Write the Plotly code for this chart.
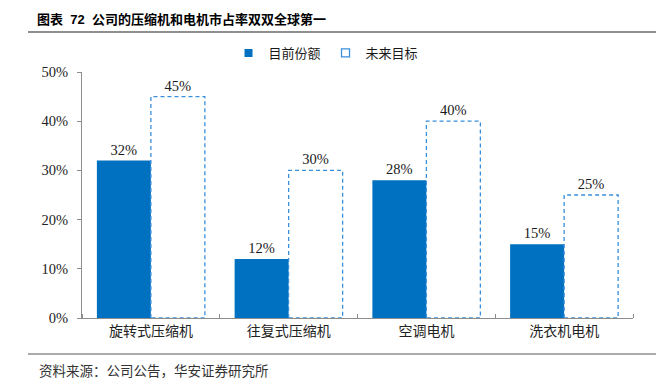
import plotly.graph_objects as go

categories = ["旋转式压缩机", "往复式压缩机", "空调电机", "洗衣机电机"]
current_share = [32, 12, 28, 15]
target_share = [45, 30, 40, 25]
y_ticks = [0, 10, 20, 30, 40, 50]

SOLID = "#0070C0"
DASH = "#3A8FDA"
BARGAP = 0.216
W = (1 - BARGAP) / 2

xs = list(range(len(categories)))

fig = go.Figure()
fig.add_trace(go.Bar(
    x=xs, y=current_share, name="目前份额", marker=dict(color=SOLID, line=dict(width=0)),
    text=[f"{v}%" for v in current_share], textposition="outside", cliponaxis=False,
    textfont=dict(family="Liberation Serif", size=14.5, color="#1a1a1a"), showlegend=False,
))
fig.add_trace(go.Bar(
    x=xs, y=target_share, name="未来目标", marker=dict(color="rgba(255,255,255,0)", line=dict(width=0)),
    text=[f"{v}%" for v in target_share], textposition="outside", cliponaxis=False,
    textfont=dict(family="Liberation Serif", size=14.5, color="#1a1a1a"), showlegend=False,
))

# dashed outlines of target bars
ox, oy = [], []
for i, v in zip(xs, target_share):
    ox += [i, i, i + W, i + W, i, None]
    oy += [0, v, v, 0, 0, None]
fig.add_trace(go.Scatter(x=ox, y=oy, mode="lines", line=dict(color=DASH, width=1.3, dash="4px,3px"),
                         showlegend=False, hoverinfo="skip", cliponaxis=False))

# legend entries
fig.add_trace(go.Scatter(x=[None], y=[None], mode="markers", name="目前份额",
                         marker=dict(symbol="square", size=8, color=SOLID)))
fig.add_trace(go.Scatter(x=[None], y=[None], mode="markers", name="未来目标",
                         marker=dict(symbol="square-open", size=8, color=DASH, line=dict(width=1.3))))

fig.update_layout(
    width=664, height=385,
    margin=dict(l=82, r=31, t=72, b=67, autoexpand=False),
    paper_bgcolor="white", plot_bgcolor="white",
    barmode="group", bargap=BARGAP, bargroupgap=0,
    font=dict(family="Noto Sans CJK SC", color="#1a1a1a"),
    title=dict(text="图表  72  公司的压缩机和电机市占率双双全球第一", xref="container", yref="container",
               x=37 / 664, xanchor="left", y=1 - 19 / 385, yanchor="middle",
               font=dict(family="Liberation Sans, Noto Sans CJK SC", size=13, weight="bold", color="#000")),
    legend=dict(orientation="h", xref="paper", yref="paper", x=(326 - 82) / 551, xanchor="center",
                y=(318 - 53) / 246, yanchor="middle", font=dict(size=13, color="#1a1a1a"),
                itemwidth=30, tracegroupgap=0, bgcolor="rgba(0,0,0,0)"),
    xaxis=dict(range=[-0.5, 3.5], tickmode="array", tickvals=xs, ticktext=categories,
               ticks="", showline=True, linecolor="#8c8c8c", linewidth=1, showgrid=False, zeroline=False,
               automargin=False,
               tickfont=dict(family="Noto Sans CJK SC", size=14, color="#222"),
               minor=dict(tickmode="array", tickvals=[-0.5, 0.5, 1.5, 2.5, 3.5], ticks="inside",
                          ticklen=4, tickcolor="#8c8c8c", showgrid=False)),
    yaxis=dict(range=[0, 50], tickmode="array", tickvals=y_ticks, ticktext=[f"{v}%" for v in y_ticks],
               ticks="outside", ticklen=4, tickcolor="#8c8c8c", showline=True, linecolor="#8c8c8c",
               linewidth=1, showgrid=False, zeroline=False, ticklabelstandoff=6, automargin=False,
               tickfont=dict(family="Liberation Serif", size=14.5, color="#222")),
    shapes=[
        dict(type="line", xref="paper", yref="paper", x0=(28 - 82) / 551, x1=(656 - 82) / 551,
             y0=(318 - 32) / 246, y1=(318 - 32) / 246, line=dict(color="#8f8f8f", width=2)),
        dict(type="line", xref="paper", yref="paper", x0=(28 - 82) / 551, x1=(656 - 82) / 551,
             y0=(318 - 354) / 246, y1=(318 - 354) / 246, line=dict(color="#8f8f8f", width=1.5)),
    ],
    annotations=[
        dict(text="资料来源：公司公告，华安证券研究所", xref="paper", yref="paper",
             x=(37 - 82) / 551, xanchor="left", y=(318 - 370) / 246, yanchor="middle",
             showarrow=False, font=dict(family="Noto Sans CJK SC", size=13.5, color="#333")),
    ],
)

fig.write_html("out.html", config={"responsive": False, "displayModeBar": False},
               post_script="document.body.style.margin='0';document.body.style.overflow='hidden';")
